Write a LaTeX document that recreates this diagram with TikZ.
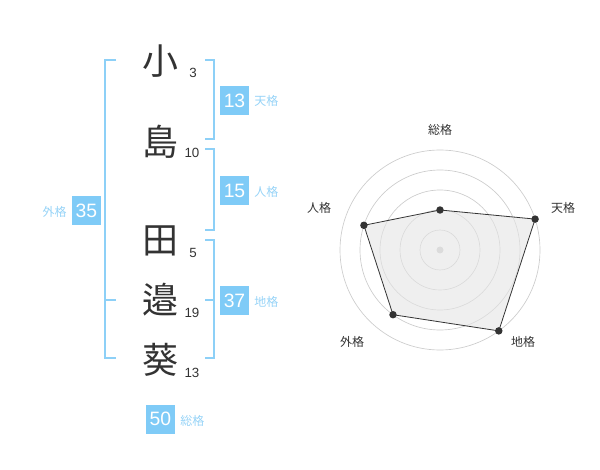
\documentclass[tikz,border=0pt]{standalone}
\usepackage{fontspec}
\setmainfont{Liberation Sans}
\newfontfamily\jp{Noto Sans CJK JP}
\definecolor{blu}{HTML}{7FCBF7}
\definecolor{lblu}{HTML}{96D3F7}
\definecolor{brk}{HTML}{8DD0F7}
\definecolor{ink}{HTML}{333333}
\definecolor{ring}{HTML}{CCCCCC}
\tikzset{
  kanji/.style={font=\jp\fontsize{27}{27}\selectfont, text=ink, inner sep=0pt},
  strokes/.style={font=\fontsize{10}{10}\selectfont, text=ink, inner sep=0pt},
  valbox/.style={fill=blu, text=white, minimum size=21.75pt, inner sep=0pt, font=\fontsize{14.5}{14.5}\selectfont},
  kaku/.style={text=lblu, font=\jp\fontsize{9}{9}\selectfont, inner sep=0pt},
  axlabel/.style={text=ink, font=\jp\fontsize{9}{9}\selectfont, inner sep=0pt},
  bracket/.style={draw=brk, line width=1.5pt},
  dot/.style={circle, fill=ink, inner sep=0pt, minimum size=5.6pt},
}
\begin{document}
\begin{tikzpicture}[x=0.75pt, y=-0.75pt]
\useasboundingbox (0,0) rectangle (600,470);
% name characters
\node[kanji] (c1) at (160,61) {小};
\node[kanji] (c2) at (160,141.5) {島};
\node[kanji] (c3) at (160,241) {田};
\node[kanji] (c4) at (160,300) {邉};
\node[kanji] (c5) at (160,360) {葵};
\node[strokes] (s1) at (193,73) {3};
\node[strokes] (s2) at (192,153) {10};
\node[strokes] (s3) at (193,253) {5};
\node[strokes] (s4) at (192,313) {19};
\node[strokes] (s5) at (192,373) {13};
% brackets
\draw[bracket] (205,60) -- (214,60) -- (214,139.5) -- (205,139.5);
\draw[bracket] (205,149.5) -- (214,149.5) -- (214,230) -- (205,230);
\draw[bracket] (205,240) -- (214,240) -- (214,358.5) -- (205,358.5);
\draw[bracket] (205,300) -- (214,300);
\draw[bracket] (116,60) -- (105,60) -- (105,358.5) -- (116,358.5);
\draw[bracket] (105,300) -- (116,300);
% values
\node[valbox] (ten) at (234.5,100.5) {13};
\node[kaku, anchor=west] (tenl) at (254,101) {天格};
\node[valbox] (jin) at (234.5,190.5) {15};
\node[kaku, anchor=west] (jinl) at (254,192) {人格};
\node[valbox] (chi) at (234.5,300.5) {37};
\node[kaku, anchor=west] (chil) at (254,302) {地格};
\node[valbox] (gai) at (86.5,210.5) {35};
\node[kaku, anchor=east] (gail) at (67,212) {外格};
\node[valbox] (sou) at (160.5,419) {50};
\node[kaku, anchor=west] (soul) at (180,421) {総格};
% radar
\coordinate (ctr) at (440,250);
\foreach \r in {20,40,60,80,100} \draw[ring, line width=0.5pt] (ctr) circle[radius=\r];
\fill[ring] (ctr) circle[radius=3.5];
\coordinate (pS) at (440,210);
\coordinate (pT) at (535.1,219.1);
\coordinate (pC) at (498.8,330.9);
\coordinate (pG) at (393,314.7);
\coordinate (pJ) at (363.9,225.3);
\filldraw[fill=gray!20, fill opacity=0.6, draw=ink, line width=0.6pt] (pS) -- (pT) -- (pC) -- (pG) -- (pJ) -- cycle;
\foreach \p in {pS,pT,pC,pG,pJ} \node[dot] at (\p) {};
\node[axlabel] (aS) at (440,130) {総格};
\node[axlabel] (aT) at (563,208) {天格};
\node[axlabel] (aC) at (523,342) {地格};
\node[axlabel] (aG) at (352,342) {外格};
\node[axlabel] (aJ) at (319,208) {人格};
\end{tikzpicture}
\end{document}
